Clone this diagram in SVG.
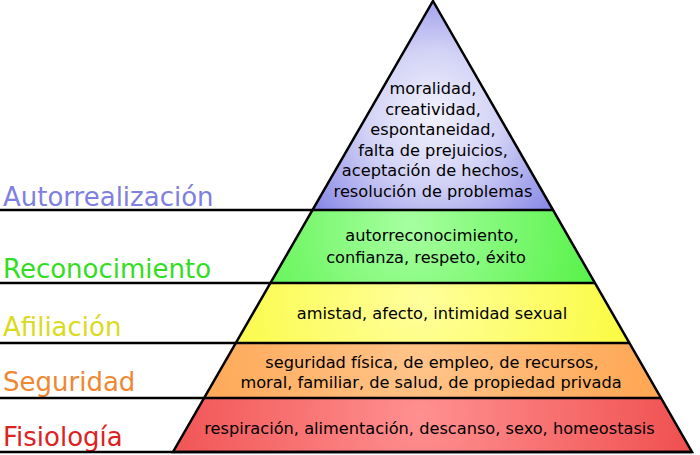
<svg xmlns="http://www.w3.org/2000/svg" width="700" height="455" viewBox="0 0 700 455">
<defs>
<radialGradient id="gP" gradientUnits="userSpaceOnUse" cx="433" cy="120" r="150" fx="433" fy="115">
<stop offset="0" stop-color="#f2f2fd"/><stop offset="0.45" stop-color="#d2d2f6"/><stop offset="1" stop-color="#8585e6"/>
</radialGradient>
<radialGradient id="gG" gradientUnits="userSpaceOnUse" cx="410" cy="225" r="220" fx="410" fy="225">
<stop offset="0" stop-color="#a6ffa0"/><stop offset="1" stop-color="#4cf03c"/>
</radialGradient>
<radialGradient id="gY" gradientUnits="userSpaceOnUse" cx="420" cy="300" r="230" fx="420" fy="300">
<stop offset="0" stop-color="#ffff9c"/><stop offset="1" stop-color="#fafa3a"/>
</radialGradient>
<radialGradient id="gO" gradientUnits="userSpaceOnUse" cx="420" cy="360" r="240" fx="420" fy="360">
<stop offset="0" stop-color="#ffc48a"/><stop offset="1" stop-color="#ffa652"/>
</radialGradient>
<radialGradient id="gR" gradientUnits="userSpaceOnUse" cx="420" cy="415" r="270" fx="420" fy="415">
<stop offset="0" stop-color="#ff9090"/><stop offset="1" stop-color="#f05050"/>
</radialGradient>
<style>
.t{font-family:"DejaVu Sans","Liberation Sans",sans-serif;font-size:16.2px;fill:#000;text-anchor:middle}
.lb{font-family:"DejaVu Sans","Liberation Sans",sans-serif;font-size:26px}
.ln{stroke:#000;stroke-width:2.5;fill:none}
</style>
</defs>
<rect width="700" height="455" fill="#fff"/>
<g id="autorrealizacion">
<polygon points="433,1 553,210 312.5,210" fill="url(#gP)"/>
<text class="t" x="433" y="94">moralidad,</text>
<text class="t" x="433" y="114.5">creatividad,</text>
<text class="t" x="433" y="135">espontaneidad,</text>
<text class="t" x="433" y="155.5">falta de prejuicios,</text>
<text class="t" x="433" y="176">aceptación de hechos,</text>
<text class="t" x="433" y="196.5">resolución de problemas</text>
<text class="lb" x="3" y="205.5" fill="#8080df">Autorrealización</text>
</g>
<g id="reconocimiento">
<polygon points="312.5,210 553,210 595,283 270.4,283" fill="url(#gG)"/>
<text class="t" x="432" y="240.5">autorreconocimiento,</text>
<text class="t" x="426" y="262.5">confianza, respeto, éxito</text>
<text class="lb" x="3" y="277.5" fill="#33dd22">Reconocimiento</text>
</g>
<g id="afiliacion">
<polygon points="270.4,283 595,283 629.4,343 235.8,343" fill="url(#gY)"/>
<text class="t" x="432" y="318.5">amistad, afecto, intimidad sexual</text>
<text class="lb" x="3" y="335.5" fill="#dada20">Afiliación</text>
</g>
<g id="seguridad">
<polygon points="235.8,343 629.4,343 661,398 204.1,398" fill="url(#gO)"/>
<text class="t" x="432" y="367.5">seguridad física, de empleo, de recursos,</text>
<text class="t" x="431" y="387.5">moral, familiar, de salud, de propiedad privada</text>
<text class="lb" x="3" y="390.5" fill="#ee8833">Seguridad</text>
</g>
<g id="fisiologia">
<polygon points="204.1,398 661,398 692,452 173,452" fill="url(#gR)"/>
<text class="t" x="429.5" y="433.5">respiración, alimentación, descanso, sexo, homeostasis</text>
<text class="lb" x="3" y="445.5" fill="#dd2222">Fisiología</text>
</g>
<g id="connectors">
<polygon class="ln" points="433,1 692,452 173,452" stroke-linejoin="miter"/>
<line class="ln" x1="0" y1="210" x2="553" y2="210"/>
<line class="ln" x1="0" y1="283" x2="595" y2="283"/>
<line class="ln" x1="0" y1="343" x2="629.4" y2="343"/>
<line class="ln" x1="0" y1="398" x2="661" y2="398"/>
<line class="ln" x1="0" y1="452" x2="692" y2="452"/>
</g>
</svg>
